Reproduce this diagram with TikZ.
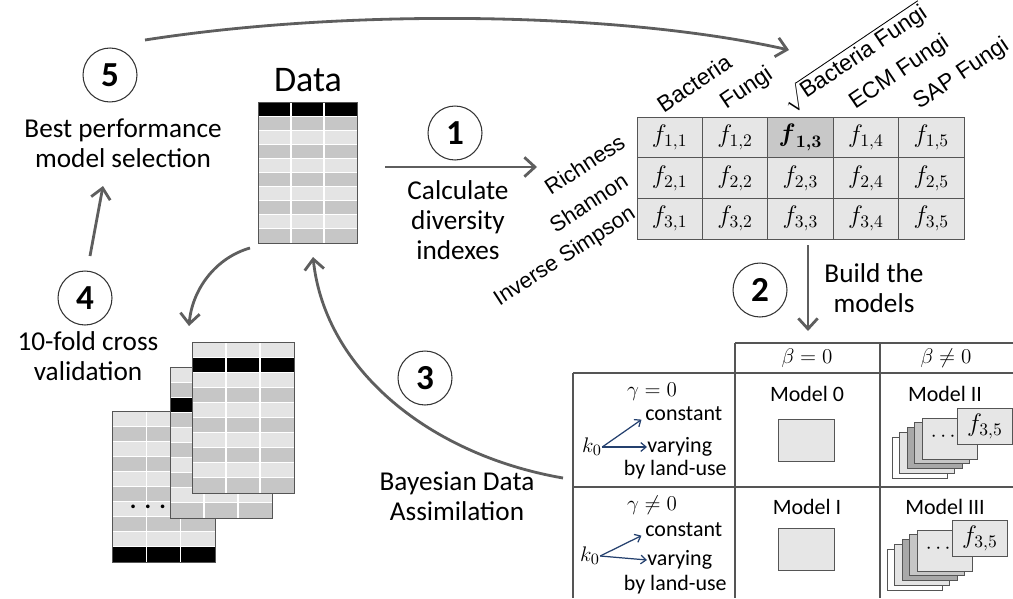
\documentclass[tikz,border=0pt]{standalone}
\usepackage{amsmath}
\usepackage{fontspec}
\setmainfont{Carlito}
\newfontfamily\arialfont{Liberation Sans}
\usetikzlibrary{arrows.meta}
\definecolor{arrowgray}{HTML}{5E5E5E}
\definecolor{gridgray}{HTML}{555555}
\definecolor{celllight}{HTML}{E6E6E6}
\definecolor{cellmid}{HTML}{C8C8C8}
\definecolor{rowdark}{HTML}{C6C6C6}
\definecolor{rowlight}{HTML}{E4E4E4}
\definecolor{stackdark}{HTML}{A8A8A8}
\definecolor{kblue}{HTML}{24406E}
\tikzset{
  num/.style={circle,draw=black!80,line width=0.6pt,minimum size=1.08cm,inner sep=0,
    font=\bfseries\fontsize{20}{20}\selectfont},
  lbl/.style={align=center,inner sep=0,font=\fontsize{15.5}{17.2}\selectfont},
  flow/.style={draw=arrowgray,line width=1.6pt,-{Straight Barb[length=6pt,width=11pt]}},
  colhd/.style={rotate=34,anchor=south west,inner sep=0,font=\arialfont\fontsize{13}{13}\selectfont},
  rowhd/.style={rotate=33,anchor=base east,inner sep=0,font=\arialfont\fontsize{12.5}{12.5}\selectfont},
  cell/.style={draw=gridgray,fill=celllight,minimum width=1.308cm,minimum height=0.814cm,
    inner sep=0,font=\fontsize{14}{14}\selectfont},
  mtxt/.style={inner sep=0,font=\fontsize{12.5}{14}\selectfont},
  kto/.style={draw=kblue,line width=0.7pt,-{Straight Barb[length=3pt,width=5pt]}},
  sheet/.style={draw=gridgray,line width=0.5pt}
}
% striped table: x, y (top), width, height, black row, name
\newcommand{\stripetable}[6]{%
  \foreach \i in {0,...,9}{%
    \ifnum\i=#5 \def\stripecol{black}\else\ifodd\i \def\stripecol{rowdark}\else\def\stripecol{rowlight}\fi\fi
    \fill[\stripecol] (#1,{#2+\i*#4/10}) rectangle ++(#3,#4/10);
    \draw[white,line width=0.5pt] (#1,{#2+\i*#4/10}) -- ++(#3,0);
  }
  \draw[white,line width=0.8pt] ({#1+#3/3},#2) -- ++(0,#4) ({#1+2*#3/3},#2) -- ++(0,#4);
  \node[draw=gridgray,line width=0.6pt,anchor=north west,inner sep=0,
    minimum width=#3*0.02cm,minimum height=#4*0.02cm] (#6) at (#1,#2) {};
}
% stack of model sheets: shift x, shift y, name
\newcommand{\modelstack}[3]{%
  \begin{scope}[shift={(#1,#2)}]
    \foreach \k/\sc in {0/white,1/rowlight,2/stackdark,3/rowdark,4/celllight}{
      \filldraw[sheet,fill=\sc] ({892+7.5*\k},{437-4.75*\k}) rectangle ++(55,41);
    }
    \node[mtxt] at (945,437) {$\cdots$};
    \node[sheet,fill=celllight,minimum width=1.1cm,minimum height=0.72cm,anchor=north west,
      inner sep=0,font=\fontsize{14}{14}\selectfont] (#3) at (957,408) {$f_{3,5}$};
  \end{scope}
}

\begin{document}
\begin{tikzpicture}[x=0.02cm,y=-0.02cm]
  \useasboundingbox (0,0) rectangle (1013,598);

  % data table
  \node[inner sep=0,font=\fontsize{20.5}{20.5}\selectfont] (datalbl) at (308,80) {Data};
  \stripetable{258}{102}{99}{141}{0}{data}

  % cross validation tables
  \stripetable{112}{411}{103}{151}{9}{cv1}
  \node[inner sep=0,font=\bfseries\fontsize{14}{14}\selectfont] at (148,507) {.\,\,.\,\,.};
  \stripetable{170}{367}{102}{151}{2}{cv2}
  \stripetable{192}{342}{102}{151}{1}{cv3}

  % step circles and labels
  \node[num] (c1) at (455,133) {1};
  \node[num] (c2) at (760,290) {2};
  \node[num] (c3) at (425,378) {3};
  \node[num] (c4) at (85,298) {4};
  \node[num] (c5) at (110,75) {5};
  \node[lbl] (calc) at (458,220) {Calculate\\diversity\\indexes};
  \node[lbl] (build) at (874,288) {Build the\\models};
  \node[lbl] (bda) at (457,496) {Bayesian Data\\Assimilation};
  \node[lbl] (cross) at (88,356) {10-fold cross\\validation};
  \node[lbl] (best) at (123,143) {Best performance\\model selection};

  % diversity matrix
  \foreach \r in {1,2,3}{
    \foreach \c in {1,...,5}{
      \ifnum\r\c=13
        \node[cell,fill=cellmid] (f\r\c) at ({637+65.4*(\c-0.5)},{117+40.7*(\r-0.5)}) {$\boldsymbol{f}_{\boldsymbol{1,3}}$};
      \else
        \node[cell] (f\r\c) at ({637+65.4*(\c-0.5)},{117+40.7*(\r-0.5)}) {$f_{\r,\c}$};
      \fi
    }
  }
  \node[colhd] at (664,114) {Bacteria};
  \node[colhd] at (729,114) {Fungi};
  \node[colhd] at (792,116) {$\sqrt{\text{Bacteria Fungi}}$};
  \node[colhd] at (858,114) {ECM Fungi};
  \node[colhd] at (922,114) {SAP Fungi};
  \node[rowhd] at (627,146) {Richness};
  \node[rowhd] at (630,185) {Shannon};
  \node[rowhd] at (637,217) {Inverse Simpson};

  % model table
  \draw[gridgray,line width=0.8pt] (735,343) -- (1013,343) (573,373) -- (1013,373)
    (573,487) -- (1013,487) (573,373) -- (573,598) (735,343) -- (735,598) (880,343) -- (880,598);
  \node[mtxt] (b0) at (807,358) {$\beta = 0$};
  \node[mtxt] (b1) at (946,358) {$\beta \neq 0$};
  \node[mtxt] (g0) at (652,392) {$\gamma = 0$};
  \node[mtxt,anchor=west] (cst1) at (645,414) {constant};
  \node[mtxt] (k1) at (592,447) {$k_0$};
  \node[mtxt,anchor=west] (var1) at (647,447) {varying};
  \node[mtxt,anchor=east] (lu1) at (727,470) {by land-use};
  \draw[kto] (k1.east) -- ([xshift=-2pt,yshift=1pt]cst1.south west);
  \draw[kto] (k1.east) -- (var1.west);
  \node[mtxt] (g1) at (652,505) {$\gamma \neq 0$};
  \node[mtxt,anchor=west] (cst2) at (645,530) {constant};
  \node[mtxt] (k2) at (590,556) {$k_0$};
  \node[mtxt,anchor=west] (var2) at (647,560) {varying};
  \node[mtxt,anchor=east] (lu2) at (727,585) {by land-use};
  \draw[kto] (k2.east) -- ([xshift=-2pt,yshift=1pt]cst2.south west);
  \draw[kto] (k2.east) -- (var2.west);
  \node[mtxt] (m0) at (807,394) {Model 0};
  \node[mtxt] (m1) at (807,507) {Model I};
  \node[mtxt] (m2) at (945,394) {Model II};
  \node[mtxt] (m3) at (945,507) {Model III};
  \node[sheet,fill=celllight,anchor=north west,minimum width=1.12cm,minimum height=0.84cm] (box0) at (778,419) {};
  \node[sheet,fill=celllight,anchor=north west,minimum width=1.12cm,minimum height=0.84cm] (box1) at (778,528) {};
  \modelstack{0}{0}{fII}
  \modelstack{-5}{112}{fIII}

  % connectors
  \coordinate (a1s) at (385,167);
  \coordinate (a1e) at (537,167);
  \coordinate (a2s) at (808,245);
  \coordinate (a2e) at (808,331);
  \coordinate (a3s) at (563,478);
  \coordinate (a3e) at (313,257);
  \coordinate (a4s) at (90,256);
  \coordinate (a4e) at (103,186);
  \coordinate (a5s) at (145,40);
  \coordinate (a5e) at (789,50);
  \coordinate (cvs) at (250,248);
  \coordinate (cve) at (189,326);
  \draw[flow] (a1s) -- (a1e);
  \draw[flow] (a2s) -- (a2e);
  \draw[flow] (a3s) .. controls (430,455) and (325,370) .. (a3e);
  \draw[flow] (a4s) -- (a4e);
  \draw[flow] (a5s) .. controls (350,8) and (620,12) .. (a5e);
  \draw[flow] (cvs) .. controls (215,258) and (192,290) .. (cve);
\end{tikzpicture}
\end{document}
